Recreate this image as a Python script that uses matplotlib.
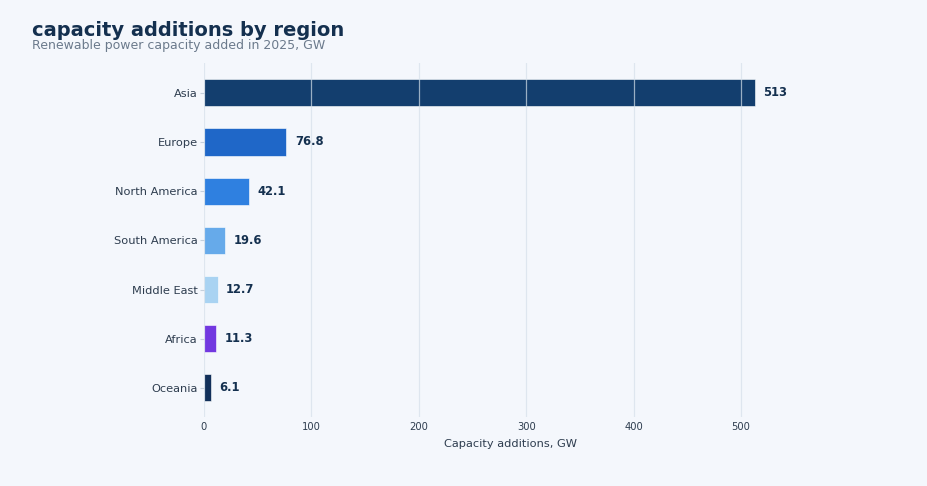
import matplotlib.pyplot as plt

regions = ['Asia', 'Europe', 'North America', 'South America', 'Middle East', 'Africa', 'Oceania']
additions = [513, 76.8, 42.1, 19.6, 12.7, 11.3, 6.1]
labels = ['513', '76.8', '42.1', '19.6', '12.7', '11.3', '6.1']
colors = ['#133e6e', '#1f67c8', '#2f80e0', '#66aaea', '#a9d3f2', '#7238e0', '#12305a']

bg = '#f4f7fc'
fig = plt.figure(figsize=(9.28, 4.86), dpi=100, facecolor=bg)
ax = fig.add_axes([0.2198, 0.141, 0.6597, 0.729], facecolor=bg)

ypos = list(range(len(regions)))
ax.barh(ypos, additions, height=0.55, color=colors, edgecolor='#ffffff', linewidth=0.4, zorder=1)
ax.invert_yaxis()
ax.set_yticks(ypos)
ax.set_yticklabels(regions)
ax.set_xlim(0, 570)

for y, v, lab in zip(ypos, additions, labels):
    ax.annotate(lab, (v, y), xytext=(6, 0), textcoords='offset points',
                ha='left', va='center', fontsize=8.3, fontweight='bold', color='#14304f')

ax.grid(axis='x', color='#d5e0ea', linewidth=0.9, alpha=0.7, zorder=2)
ax.set_axisbelow(False)
ax.grid(axis='y', visible=False)
for s in ax.spines.values():
    s.set_visible(False)
ax.tick_params(axis='y', labelsize=8.2, colors='#c5d0dc', labelcolor='#2e3d4f', length=3, pad=1.5)
ax.tick_params(axis='x', labelsize=7.2, colors='#c5d0dc', labelcolor='#2e3d4f', length=0, pad=3)
ax.set_xticks([0, 100, 200, 300, 400, 500])
ax.set_xlabel('Capacity additions, GW', fontsize=8.2, color='#2e3d4f', labelpad=5)

fig.text(0.0345, 0.925, 'capacity additions by region', fontsize=14, fontweight='bold', color='#14304f')
fig.text(0.0345, 0.9, 'Renewable power capacity added in 2025, GW', fontsize=9, color='#6b7a8c')

fig.savefig('out.png', dpi=100, facecolor=bg)
